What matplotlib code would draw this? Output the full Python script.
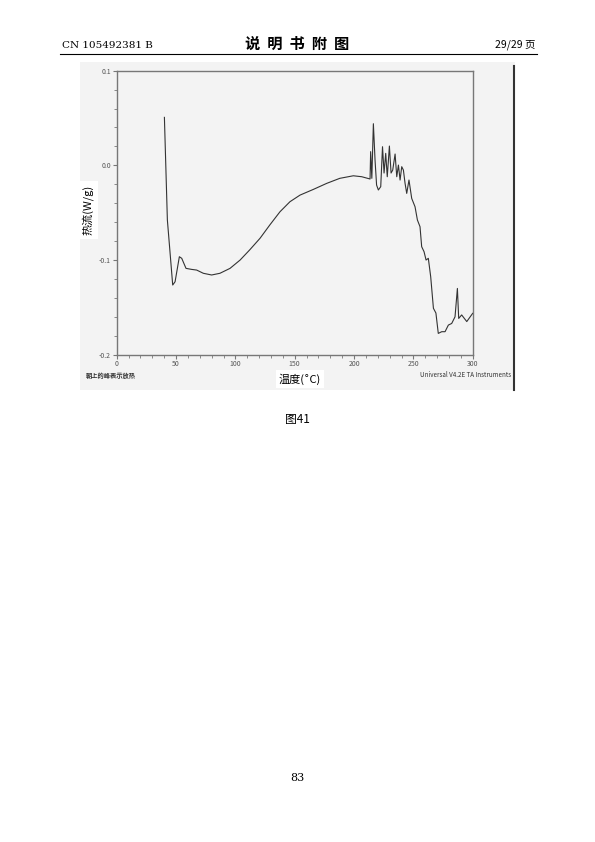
import matplotlib
matplotlib.use("Agg")
import matplotlib.pyplot as plt
from matplotlib.ticker import MultipleLocator
from matplotlib.patches import Rectangle

plt.rcParams["font.family"] = ["Noto Sans CJK SC", "DejaVu Sans"]

# DSC trace
temp = [40.2, 42.7, 47.2, 49.2, 52.8, 54.8, 58.4, 63.2, 67.4, 73, 80, 87, 95.5, 104,
        112, 120.8, 129, 137.6, 146, 154.5, 165.7, 177, 188, 199.4, 206.5, 213.5,
        214, 215, 216.3, 217.7, 219, 220.5, 222.5, 224, 225.3, 226.7, 228, 229.8,
        231.2, 232.6, 234.6, 236, 237.4, 238.8, 240.2, 241.6, 243, 244.4, 246.3,
        248.6, 251.4, 253.4, 255.6, 257, 259, 260.7, 262.6, 264.6, 266.9, 269, 271,
        273.9, 276.7, 279.5, 282.3, 285.1, 287.1, 288.2, 290.7, 295, 300]
heat_flow = [0.0507, -0.0577, -0.1264, -0.1229, -0.0965, -0.0982, -0.1088, -0.1099,
             -0.1106, -0.114, -0.1158, -0.114, -0.1088, -0.1, -0.0894, -0.077, -0.063,
             -0.049, -0.0384, -0.0314, -0.0254, -0.019, -0.0137, -0.011, -0.012,
             -0.0144, 0.0145, -0.0137, 0.044, 0.0056, -0.0208, -0.026, -0.0225, 0.0197,
             -0.0081, 0.0127, -0.012, 0.0204, -0.0081, -0.005, 0.012, -0.012, 0.0003,
             -0.0155, -0.0014, -0.005, -0.019, -0.0296, -0.0155, -0.0349, -0.0437,
             -0.0577, -0.0648, -0.0859, -0.0912, -0.1, -0.0982, -0.1176, -0.151, -0.156,
             -0.1775, -0.1757, -0.1757, -0.1687, -0.167, -0.16, -0.13, -0.1617, -0.158,
             -0.165, -0.1563]

fig = plt.figure(figsize=(5.95, 8.42), dpi=100)
W, H = 595, 842

# page header / footer
fig.text(62 / W, 1 - 45 / H, "CN 105492381 B", fontsize=7.5, family="DejaVu Serif", va="center")
fig.text(0.5, 1 - 44 / H, "说  明  书  附  图", fontsize=11, weight="bold", ha="center", va="center")
fig.text(535 / W, 1 - 45 / H, "29/29 页", fontsize=7.5, ha="right", va="center")
fig.add_artist(plt.Line2D([60 / W, 537 / W], [1 - 54 / H] * 2, color="black", lw=0.8))
fig.text(0.5, 1 - 420 / H, "图41", fontsize=8.5, ha="center", va="center")
fig.text(0.5, 1 - 778 / H, "83", fontsize=8, ha="center", va="center", family="DejaVu Serif")

# scanned chart background
fig.add_artist(Rectangle((80 / W, 1 - 390 / H), 435 / W, 328 / H, facecolor="#f3f3f3",
                         edgecolor="none", zorder=0))
fig.add_artist(plt.Line2D([514 / W] * 2, [1 - 390 / H, 1 - 66 / H], color="#333333", lw=1.5))

ax = fig.add_axes([116.7 / W, 1 - 354.7 / H, 356 / W, 284 / H])
ax.set_facecolor("#f3f3f3")
ax.plot(temp, heat_flow, color="#333333", lw=0.8)
ax.set_xlim(0, 300)
ax.set_ylim(-0.2, 0.1)
ax.xaxis.set_major_locator(MultipleLocator(50))
ax.xaxis.set_minor_locator(MultipleLocator(10))
ax.yaxis.set_major_locator(MultipleLocator(0.1))
ax.yaxis.set_minor_locator(MultipleLocator(0.02))
ax.set_yticks([-0.2, -0.1, 0.0, 0.1], ["-0.2", "-0.1", "0.0", "0.1"])
for s in ax.spines.values():
    s.set_color("#777777")
    s.set_linewidth(1.0)
ax.tick_params(which="both", colors="#777777", labelcolor="#555555", labelsize=5, length=3)
ax.tick_params(which="minor", length=2)
ax.tick_params(axis="y", pad=1)
ax.tick_params(axis="x", pad=1)

fig.text(88 / W, 1 - 210 / H, "热流(W/g)", rotation=90, fontsize=8, ha="center", va="center",
         bbox=dict(facecolor="white", edgecolor="none", pad=3))
fig.text(300 / W, 1 - 379 / H, "温度(˚C)", fontsize=8, ha="center", va="center",
         bbox=dict(facecolor="white", edgecolor="none", pad=2))
fig.text(86 / W, 1 - 376 / H, "朝上的峰表示放热", fontsize=4.5, weight="bold", color="#333333",
         va="center")
fig.text(511 / W, 1 - 375 / H, "Universal V4.2E TA Instruments", fontsize=4.5, color="#333333",
         ha="right", va="center")

fig.savefig("out.png", dpi=100, facecolor="white")
